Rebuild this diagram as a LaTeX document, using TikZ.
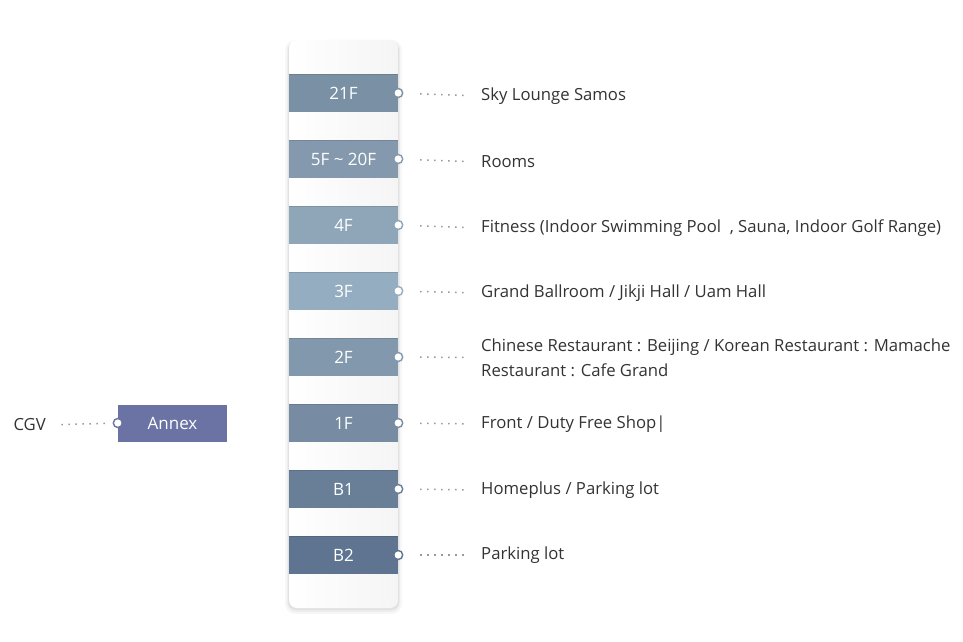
\documentclass[tikz,border=0pt]{standalone}
\usepackage{fontspec}
\setmainfont{Open Sans}
\usetikzlibrary{positioning}
\definecolor{barA}{HTML}{7A90A5}
\definecolor{barB}{HTML}{8499AD}
\definecolor{barC}{HTML}{8EA6B8}
\definecolor{barD}{HTML}{95ADC0}
\definecolor{barE}{HTML}{8298AC}
\definecolor{barF}{HTML}{778CA2}
\definecolor{barG}{HTML}{697F98}
\definecolor{barH}{HTML}{5E7490}
\definecolor{annexc}{HTML}{6B73A4}
\definecolor{txtc}{HTML}{333333}
\definecolor{dotc}{HTML}{9A9A9A}
\tikzset{
  floorbar/.style={minimum width=109, minimum height=37, inner sep=0, text=white,
    font=\fontsize{17}{18}\selectfont, fill=#1},
  pin/.style={circle, draw=#1, fill=white, line width=1.4, minimum size=9, inner sep=0},
  info/.style={anchor=west, text=txtc, font=\fontsize{16.7}{25}\selectfont, align=left, inner sep=0},
  dotline/.style={dotc, line width=1.5, dash pattern=on 1.4 off 5.6, shorten <=22, shorten >=16},
}
\begin{document}
\begin{tikzpicture}[x=1pt, y=-1pt]
\useasboundingbox (0,0) rectangle (963,642);
\fill[black, opacity=0.03, rounded corners=10] (285,40) rectangle (402,614);
\fill[black, opacity=0.04, rounded corners=9] (287,41) rectangle (400,612);
\fill[black, opacity=0.05, rounded corners=8] (288,42) rectangle (399,610);
\shade[left color=white, right color=black!4, rounded corners=8] (289,40) rectangle (398,608);
\node[floorbar=barA] (f21) at (343.5,93) {21F};
\node[floorbar=barB] (f520) at (343.5,159) {5F \textasciitilde\ 20F};
\node[floorbar=barC] (f4) at (343.5,225) {4F};
\node[floorbar=barD] (f3) at (343.5,291) {3F};
\node[floorbar=barE] (f2) at (343.5,357) {2F};
\node[floorbar=barF] (f1) at (343.5,423) {1F};
\node[floorbar=barG] (fb1) at (343.5,489) {B1};
\node[floorbar=barH] (fb2) at (343.5,555) {B2};
\draw[barA!88!black, line width=1.2] (f21.north west) -- (f21.north east);
\draw[barB!88!black, line width=1.2] (f520.north west) -- (f520.north east);
\draw[barC!88!black, line width=1.2] (f4.north west) -- (f4.north east);
\draw[barD!88!black, line width=1.2] (f3.north west) -- (f3.north east);
\draw[barE!88!black, line width=1.2] (f2.north west) -- (f2.north east);
\draw[barF!88!black, line width=1.2] (f1.north west) -- (f1.north east);
\draw[barG!88!black, line width=1.2] (fb1.north west) -- (fb1.north east);
\draw[barH!88!black, line width=1.2] (fb2.north west) -- (fb2.north east);
\node[floorbar=annexc] (annex) at (172.5,423) {Annex};
\node[info] (l21) at (481,96) {Sky Lounge Samos};
\node[info] (l520) at (481,162) {Rooms};
\node[info] (l4) at (481,228) {Fitness (Indoor Swimming Pool\ \ , Sauna, Indoor Golf Range)};
\node[info] (l3) at (481,293) {Grand Ballroom / Jikji Hall / Uam Hall};
\node[info] (l2) at (481,357.5) {Chinese Restaurant : Beijing / Korean Restaurant : Mamache\\Restaurant : Cafe Grand};
\node[info] (l1) at (481,424) {Front / Duty Free Shop|};
\node[info] (lb1) at (481,490) {Homeplus / Parking lot};
\node[info] (lb2) at (481,555) {Parking lot};
\node[info, anchor=east] (cgv) at (46,425) {CGV};
\draw[dotline] (f21.east) -- (l21.west);
\draw[dotline] (f520.east) -- (l520.west);
\draw[dotline] (f4.east) -- (l4.west);
\draw[dotline] (f3.east) -- (l3.west);
\draw[dotline] (f2.east) -- (l2.west);
\draw[dotline] (f1.east) -- (l1.west);
\draw[dotline] (fb1.east) -- (lb1.west);
\draw[dotline] (fb2.east) -- (lb2.west);
\draw[dotline, shorten <=13, shorten >=15] (annex.west) -- (cgv.east);
\node[pin=barA] at (f21.east) {};
\node[pin=barB] at (f520.east) {};
\node[pin=barC] at (f4.east) {};
\node[pin=barD] at (f3.east) {};
\node[pin=barE] at (f2.east) {};
\node[pin=barF] at (f1.east) {};
\node[pin=barG] at (fb1.east) {};
\node[pin=barH] at (fb2.east) {};
\node[pin=annexc] at (annex.west) {};
\end{tikzpicture}
\end{document}
